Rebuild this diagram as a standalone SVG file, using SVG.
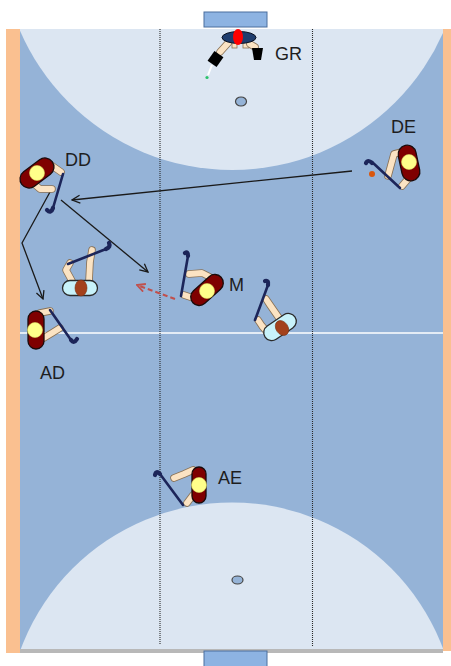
<svg xmlns="http://www.w3.org/2000/svg" width="451" height="666" viewBox="0 0 451 666">
<style>
.lbl{font-family:"Liberation Sans",Arial,sans-serif;font-size:18px;fill:#1e1e1e}
.dot{stroke:#2a2a2a;stroke-width:1.1;stroke-dasharray:1 1;fill:none}
.capR{fill:#7f0000;stroke:#1a0a0a;stroke-width:1.3}
.capW{fill:#c8f2fa;stroke:#2a2a2a;stroke-width:1.3}
.head{fill:#ffff8a;stroke:#d8d860;stroke-width:0.6}
.headW{fill:#a3411c;stroke:#7a3010;stroke-width:0.6}
.armo{fill:none;stroke:#8a7256;stroke-width:7.5;stroke-linecap:round;stroke-linejoin:round}
.armi{fill:none;stroke:#fbe3c3;stroke-width:5.8;stroke-linecap:round;stroke-linejoin:round}
.stick{fill:none;stroke:#1c2559;stroke-width:2.6;stroke-linecap:round}
.hook{fill:none;stroke:#1c2559;stroke-width:4.2;stroke-linecap:round}
.arr{fill:none;stroke:#1a1a1a;stroke-width:1.3}
.spot{stroke:#444;stroke-width:1.2}
</style>
<defs>
<clipPath id="fieldClip"><rect x="20" y="29" width="423" height="620"/></clipPath>
<marker id="ah" viewBox="0 0 10 10" refX="9" refY="5" markerWidth="10" markerHeight="10" markerUnits="userSpaceOnUse" orient="auto"><path d="M1,1 L9,5 L1,9" fill="none" stroke="#1a1a1a" stroke-width="1.3"/></marker>
<marker id="ahr" viewBox="0 0 10 10" refX="9" refY="5" markerWidth="10" markerHeight="10" markerUnits="userSpaceOnUse" orient="auto"><path d="M1,1 L9,5 L1,9" fill="none" stroke="#c0504d" stroke-width="1.8"/></marker>
</defs>

<g id="pitch">
<rect x="0" y="0" width="451" height="666" fill="#ffffff"/>
<rect x="6" y="29" width="14" height="624" fill="#fac090"/>
<rect x="443" y="29" width="8" height="622" fill="#fac090"/>
<rect x="20" y="649" width="423" height="4" fill="#b8b8b8"/>
<rect x="20" y="29" width="423" height="620" fill="#95b3d7"/>
<g clip-path="url(#fieldClip)">
<circle cx="232" cy="-61" r="231" fill="#dce6f2"/>
<circle cx="232" cy="728" r="225.5" fill="#dce6f2"/>
</g>
<line x1="20" y1="333" x2="443" y2="333" stroke="#ffffff" stroke-width="1.5"/>
<line class="dot" x1="160" y1="29" x2="160" y2="645"/>
<line class="dot" x1="312.5" y1="29" x2="312.5" y2="647"/>
<rect x="204" y="12" width="63" height="15" fill="#8db3e2" stroke="#4a6e9e" stroke-width="1"/>
<rect x="204" y="651" width="63" height="16" fill="#8db3e2" stroke="#4a6e9e" stroke-width="1"/>
<ellipse class="spot" cx="241" cy="101.5" rx="5.5" ry="4.5" fill="#95b3d7"/>
<ellipse class="spot" cx="237.5" cy="580" rx="5.5" ry="4" fill="#95b3d7"/>
</g>

<g id="connectors">
<line class="arr" x1="352" y1="171" x2="72" y2="200" marker-end="url(#ah)"/>
<line class="arr" x1="61" y1="200" x2="148" y2="272" marker-end="url(#ah)"/>
<polyline class="arr" points="50,192 22,243 43,299" marker-end="url(#ah)"/>
<line x1="175" y1="299" x2="137" y2="285" fill="none" stroke="#c0504d" stroke-width="2" stroke-dasharray="5 3" marker-end="url(#ahr)"/>
</g>

<g id="GR">
<path class="armo" d="M229,42 L220,52"/>
<path class="armi" d="M229,42 L220,52"/>
<rect x="232" y="42" width="5" height="6" fill="#fbe3c3" stroke="#8a7256" stroke-width="0.8"/>
<rect x="243" y="42" width="6" height="6" fill="#fbe3c3" stroke="#8a7256" stroke-width="0.8"/>
<path d="M250,44 L255,47" class="armo"/><path d="M250,44 L255,47" class="armi"/>
<path d="M252,48 L263,48 L261,60 L254,60 Z" fill="#000"/>
<line x1="212" y1="65" x2="208" y2="75" stroke="#ffffff" stroke-width="2"/>
<circle cx="207" cy="77.5" r="1.6" fill="#2cc36b"/>
<rect x="210" y="53" width="11" height="12" fill="#000" transform="rotate(35 215.5 59)"/>
<ellipse cx="239" cy="37.5" rx="17" ry="6" fill="#1f3d6e" stroke="#0a1020" stroke-width="1"/>
<ellipse cx="238" cy="37" rx="5" ry="8" fill="#ff0000"/>
<text class="lbl" x="275" y="60">GR</text>
</g>

<g id="DE">
<path class="armo" d="M402,152 L394,154 L388,176"/><path class="armi" d="M402,152 L394,154 L388,176"/>
<path class="armo" d="M408,179 L402,186"/><path class="armi" d="M408,179 L402,186"/>
<path class="stick" d="M372,162 L400,188"/>
<path class="hook" d="M372,163 Q368,159 366,163"/>
<rect class="capR" x="400" y="145" width="18" height="36" rx="9" transform="rotate(-12 409 163)"/>
<circle class="head" cx="409" cy="162" r="7.5"/>
<circle cx="372" cy="174" r="3" fill="#d9570e"/>
<text class="lbl" x="391" y="133">DE</text>
</g>

<g id="DD">
<path class="armo" d="M51,165 L61,172"/><path class="armi" d="M51,165 L61,172"/>
<path class="armo" d="M33,183 L40,189 L52,189"/><path class="armi" d="M33,183 L40,189 L52,189"/>
<path class="stick" d="M63,174 L53,208"/>
<path class="hook" d="M53,208 Q51,214 47,210"/>
<rect class="capR" x="18" y="164" width="38" height="18" rx="9" transform="rotate(-37 37 173)"/>
<circle class="head" cx="37" cy="173" r="7.5"/>
<text class="lbl" x="65" y="166">DD</text>
</g>

<g id="M">
<path class="armo" d="M212,278 L202,273 L189,274"/><path class="armi" d="M212,278 L202,273 L189,274"/>
<path class="armo" d="M196,299 L184,295"/><path class="armi" d="M196,299 L184,295"/>
<path class="stick" d="M188,256 L181,296"/>
<path class="hook" d="M188,256 Q188,251 185,253"/>
<rect class="capR" x="188" y="281.5" width="38" height="17" rx="8.5" transform="rotate(-42 207 290)"/>
<circle class="head" cx="207" cy="291" r="7.5"/>
<text class="lbl" x="229" y="291">M</text>
</g>

<g id="AD">
<path class="armo" d="M40,313 L50,311"/><path class="armi" d="M40,313 L50,311"/>
<path class="armo" d="M42,339 L52,333 L60,328"/><path class="armi" d="M42,339 L52,333 L60,328"/>
<path class="stick" d="M50,310 L71,340"/>
<path class="hook" d="M71,340 Q74,344 77,339"/>
<rect class="capR" x="28" y="311" width="16" height="38" rx="8"/>
<circle class="head" cx="35" cy="330" r="7.5"/>
<text class="lbl" x="40" y="379">AD</text>
</g>

<g id="AE">
<path class="armo" d="M193,470 L184,474 L174,478"/><path class="armi" d="M193,470 L184,474 L174,478"/>
<path class="armo" d="M193,495 L187,503"/><path class="armi" d="M193,495 L187,503"/>
<path class="stick" d="M160,474 L183,505"/>
<path class="hook" d="M160,474 Q156,470 155,475"/>
<rect class="capR" x="192" y="467" width="14" height="36" rx="7"/>
<circle class="head" cx="199" cy="485" r="7.5"/>
<text class="lbl" x="218" y="484">AE</text>
</g>

<g id="W1">
<path class="armo" d="M72,281 L66,270 L70,263"/><path class="armi" d="M72,281 L66,270 L70,263"/>
<path class="armo" d="M89,281 L90,262 L92,250"/><path class="armi" d="M89,281 L90,262 L92,250"/>
<path class="stick" d="M68,264 L106,249"/>
<path class="hook" d="M106,249 Q111,247 109,243"/>
<rect class="capW" x="62.5" y="280.5" width="35" height="15" rx="7.5"/>
<ellipse class="headW" cx="81" cy="288" rx="6" ry="8"/>
</g>

<g id="W2">
<path class="armo" d="M279,318 L270,305 L266,299"/><path class="armi" d="M279,318 L270,305 L266,299"/>
<path class="armo" d="M268,333 L262,326 L258,320"/><path class="armi" d="M268,333 L262,326 L258,320"/>
<path class="stick" d="M268,285 L255,320"/>
<path class="hook" d="M268,285 Q269,280 265,281"/>
<rect class="capW" x="262" y="319" width="36" height="16" rx="8" transform="rotate(-34 280 327)"/>
<ellipse class="headW" cx="282" cy="328" rx="6" ry="8" transform="rotate(-34 282 328)"/>
</g>
</svg>
